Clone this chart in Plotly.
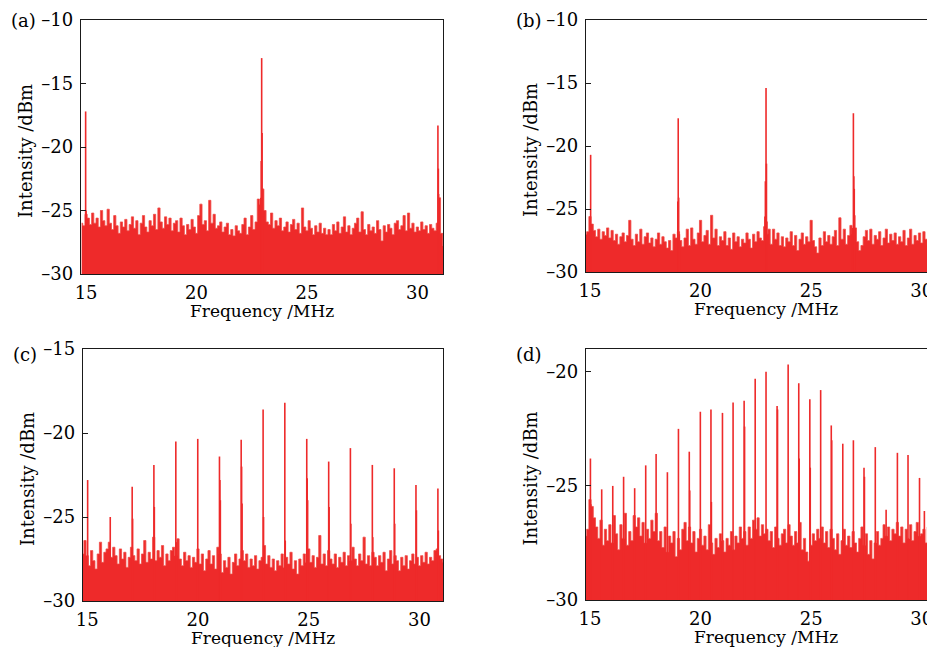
import numpy as np
import plotly.graph_objects as go

# page body adds an 8 px margin, so the figure is drawn 8 px in from the top-left
OFF = 8
W, H = 935 - OFF, 647 - OFF

# ---------------- data ----------------
# noise-floor samples, 0.1 MHz grid
freq_ac = np.round(np.arange(14.8, 31.25, 0.1), 2)   # panels a, c
freq_bd = np.round(np.arange(14.8, 30.65, 0.1), 2)   # panels b, d

noise_a = [-26.0, -26.2,
    -25.3, -25.6, -26.1, -25.2, -26.0, -25.6, -26.3, -25.0, -25.8, -26.2,
    -24.9, -26.0, -26.5, -25.4, -26.2, -26.8, -25.9, -26.3, -25.7, -26.6,
    -26.1, -25.5, -26.4, -25.8, -26.9, -26.0, -25.4, -26.3, -26.7, -25.8,
    -26.2, -25.3, -26.5, -24.8, -25.9, -26.4, -25.5, -26.1, -25.6, -26.6,
    -26.0, -25.8, -26.7, -25.6, -26.2, -26.9, -26.1, -26.5, -25.7, -26.3,
    -26.8, -25.4, -24.5, -26.1, -25.8, -26.6, -24.2, -26.0, -25.3, -26.4,
    -26.2, -25.9, -26.7, -26.3, -26.0, -26.9, -26.5, -27.0, -26.2, -26.6,
    -26.8, -26.1, -25.6, -26.9, -26.3, -25.4, -26.5, -25.9, -24.1, -24.5,
    -23.3, -25.0, -25.9, -26.1, -25.2, -26.4, -25.8, -26.2, -25.6, -26.6,
    -26.3, -25.9, -26.7, -26.1, -25.7, -26.5, -26.0, -26.8, -24.8, -26.3,
    -26.6, -25.8, -26.4, -26.9, -26.2, -26.7, -26.0, -26.8, -26.4, -26.9,
    -26.5, -26.9, -26.1, -26.6, -25.9, -26.8, -26.3, -25.5, -26.7, -26.2,
    -26.9, -26.4, -26.0, -25.6, -26.7, -25.1, -26.5, -26.9, -26.1, -26.6,
    -26.3, -26.8, -25.8, -26.5, -27.4, -26.2, -26.7, -26.1, -26.4, -26.9,
    -26.0, -25.8, -26.5, -26.2, -25.4, -26.6, -25.2, -26.4, -26.0, -26.7,
    -26.3, -26.6, -25.9, -26.5, -26.2, -26.8, -26.1, -26.4, -26.6, -26.0,
    -24.0, -26.8, -27.8]

noise_b = [-27.0, -26.8,
    -25.6, -26.2, -26.7, -27.2, -26.6, -27.4, -26.8, -27.1, -26.5, -27.3,
    -26.7, -27.5, -27.0, -27.8, -27.2, -26.9, -27.6, -27.1, -25.9, -27.4,
    -27.9, -27.0, -27.6, -26.6, -27.8, -27.2, -26.9, -27.7, -27.3, -28.0,
    -27.4, -26.9, -27.8, -27.2, -27.6, -28.1, -27.5, -28.3, -27.0, -27.3,
    -26.8, -27.5, -28.0, -27.3, -26.6, -27.9, -26.5, -27.4, -27.8, -26.9,
    -25.9, -27.6, -27.1, -26.7, -27.8, -25.5, -27.3, -26.6, -27.9, -27.2,
    -27.5, -26.8, -27.9, -27.3, -28.2, -26.9, -27.6, -27.2, -28.0, -27.4,
    -27.7, -26.9, -27.4, -28.1, -27.0, -27.6, -26.8, -27.3, -27.5, -26.4,
    -27.0, -26.6, -27.8, -26.6, -27.4, -26.9, -27.9, -27.2, -28.0, -27.3,
    -27.6, -26.8, -27.9, -27.1, -28.3, -27.4, -26.9, -27.8, -27.2, -27.6,
    -25.9, -27.5, -28.0, -28.5, -27.3, -27.9, -26.8, -27.6, -27.1, -27.8,
    -27.2, -26.7, -27.9, -25.7, -27.4, -26.6, -27.8, -27.1, -26.3, -27.0,
    -26.5, -27.6, -28.3, -27.9, -27.2, -26.7, -27.5, -26.6, -27.8, -27.1,
    -27.4, -26.8, -27.9, -27.3, -26.6, -27.7, -27.0, -27.5, -26.9, -27.8,
    -27.2, -27.6, -26.7, -27.9, -27.3, -26.6, -27.8, -27.1, -27.5, -26.9,
    -27.7, -26.8, -27.4, -27.9, -26.7, -27.3, -27.6]

noise_c = [-27.2, -26.4,
    -27.3, -27.9, -27.0, -27.6, -28.1, -27.2, -26.5, -27.7, -27.1, -26.9,
    -26.5, -27.4, -26.8, -27.3, -27.8, -26.9, -27.5, -27.1, -28.0, -27.4,
    -26.8, -27.3, -27.6, -26.9, -27.8, -27.2, -26.4, -27.7, -27.1, -27.5,
    -26.2, -27.6, -27.0, -27.4, -26.7, -27.9, -27.2, -27.6, -27.0, -26.8,
    -27.3, -26.3, -27.5, -27.9, -27.1, -27.6, -27.3, -28.0, -27.4, -27.7,
    -26.9, -27.8, -27.2, -28.2, -27.5, -27.0, -27.8, -27.3, -28.1, -26.8,
    -27.2, -28.3, -27.6, -28.0, -27.4, -28.4, -27.7, -27.2, -27.9, -27.5,
    -27.0, -27.6, -27.2, -28.0, -27.5, -27.9, -27.3, -28.1, -27.6, -27.4,
    -26.7, -27.8, -27.3, -28.0, -27.5, -28.2, -27.6, -27.9, -27.2, -28.0,
    -27.4, -27.8, -27.1, -28.1, -27.6, -28.4, -27.5, -27.9, -27.2, -27.7,
    -26.9, -27.7, -27.3, -28.0, -27.4, -26.1, -27.8, -27.2, -27.9, -27.0,
    -27.5, -27.8, -27.2, -28.0, -27.4, -27.7, -27.1, -27.9, -27.3, -27.6,
    -26.8, -27.5, -27.9, -27.2, -27.6, -26.2, -27.8, -27.3, -27.9, -27.1,
    -27.4, -27.9, -27.3, -27.7, -27.1, -28.2, -27.5, -27.0, -27.8, -27.3,
    -27.6, -28.2, -27.4, -27.9, -27.3, -28.1, -27.6, -27.2, -27.8, -27.4,
    -27.9, -27.3, -27.7, -27.1, -27.8, -27.4, -27.6, -27.0, -26.9, -27.3,
    -27.5, -27.7, -27.9]

noise_d = [-27.2, -26.9,
    -25.6, -25.9, -26.4, -26.8, -27.3, -26.5, -27.6, -26.9, -27.4, -26.7,
    -27.5, -26.3, -27.1, -27.8, -26.7, -27.3, -26.2, -27.6, -27.0, -27.4,
    -26.3, -26.8, -26.4, -27.2, -26.6, -27.5, -26.9, -27.3, -26.5, -27.0,
    -26.2, -27.4, -27.0, -27.7, -26.8, -27.9, -27.2, -27.5, -27.0, -28.1,
    -27.3, -27.8, -26.9, -26.6, -27.4, -26.8, -27.5, -27.0, -27.9, -27.3,
    -26.9, -27.6, -27.2, -27.8, -26.7, -27.5, -28.0, -27.3, -27.7, -27.1,
    -27.4, -27.9, -27.3, -27.6, -27.0, -27.8, -27.2, -27.5, -26.8, -27.3,
    -27.0, -27.6, -26.8, -27.3, -26.5, -26.9, -26.4, -27.2, -26.7, -27.1,
    -26.9, -27.4, -27.0, -27.7, -26.8, -27.3, -27.6, -27.1, -26.9, -27.5,
    -26.7, -27.2, -27.6, -27.0, -27.5, -26.6, -27.8, -27.3, -27.9, -28.3,
    -27.6, -27.1, -27.4, -26.9, -27.3, -26.8, -27.5, -27.0, -27.7, -26.9,
    -27.3, -27.8, -27.1, -28.0, -27.4, -26.9, -27.6, -27.2, -27.7, -27.0,
    -27.5, -27.9, -27.3, -26.8, -27.6, -27.1, -28.0, -27.4, -28.2, -27.5,
    -27.0, -27.6, -27.3, -26.7, -27.2, -26.8, -27.4, -26.9, -27.1, -26.6,
    -27.2, -26.8, -27.5, -26.9, -27.3, -26.7, -27.4, -27.0, -26.6, -27.2,
    -27.1, -26.9, -27.5, -26.8, -27.3, -26.7, -27.0]

# spectral lines (frequency MHz, intensity dBm), incl. shoulders
lines_a_f = [14.98, 15.00, 22.91, 22.93, 22.95, 22.97, 22.99, 23.01, 30.93, 30.95, 30.96, 30.98]
lines_a_v = [-17.2, -25.0, -24.0, -21.1, -13.0, -18.9, -23.4, -25.5, -18.3, -21.7, -23.7, -26.7]

lines_b_f = [15.03, 15.05, 18.97, 18.99, 19.01, 19.04, 22.91, 22.93, 22.96, 22.98, 23.00,
             26.88, 26.91, 26.93, 26.95, 26.97]
lines_b_v = [-20.7, -26.2, -24.4, -17.8, -24.1, -27.0, -25.6, -22.8, -15.4, -21.4, -26.0,
             -26.5, -17.4, -22.4, -23.4, -25.5]

lines_c_f = [15.02, 16.04, 17.03, 17.05, 18.01, 18.03, 19.00, 19.02, 19.99, 20.97, 20.99, 21.01,
             21.95, 21.97, 21.99, 22.94, 22.96, 23.92, 23.94, 24.91, 24.93, 24.95, 25.90, 25.92,
             26.88, 26.90, 27.87, 27.89, 28.86, 28.88, 29.84, 29.86, 30.83, 30.85]
lines_c_v = [-22.8, -25.0, -23.2, -25.1, -21.9, -24.4, -20.5, -26.5, -20.35, -21.4, -22.8, -24.0,
             -20.4, -22.0, -24.2, -18.6, -25.0, -18.2, -26.4, -20.35, -22.7, -24.0, -21.7, -24.4,
             -20.9, -25.4, -21.9, -26.2, -22.1, -25.4, -23.1, -24.6, -23.3, -25.8]

lines_d_f = [15.02, 15.04, 15.53, 16.03, 16.52, 17.02, 17.52, 17.99, 18.50, 19.00, 19.49, 19.51,
             19.99, 20.47, 20.49, 20.99, 21.47, 21.97, 21.99, 22.47, 22.96, 23.46, 23.48, 23.96,
             24.44, 24.46, 24.94, 24.96, 25.43, 25.91, 25.93, 26.43, 26.91, 27.39, 27.41, 27.90,
             28.39, 28.90, 29.38, 29.90, 30.12, 30.38]
lines_d_v = [-23.8, -25.8, -25.15, -25.0, -24.6, -25.1, -24.1, -23.6, -24.4, -22.5, -23.5, -25.2,
             -21.75, -21.65, -25.7, -21.8, -21.35, -21.27, -22.4, -20.3, -20.0, -21.5, -21.65, -19.68,
             -20.5, -23.8, -21.2, -24.2, -20.8, -22.35, -23.0, -23.15, -23.0, -24.2, -24.6, -23.3,
             -26.05, -23.55, -23.65, -24.65, -26.1, -24.07]

x_ticks = [15, 20, 25, 30]
y_ticks_ab = [-30, -25, -20, -15, -10]
y_ticks_c = [-30, -25, -20, -15]
y_ticks_d = [-30, -25, -20]

panels = [
    dict(name="(a)", f=freq_ac, n=noise_a, lf=lines_a_f, lv=lines_a_v,
         xr=[14.77, 31.16], yr=[-30, -10], yt=y_ticks_ab,
         box=(81, 443, 20, 274), full=True),
    dict(name="(b)", f=freq_bd, n=noise_b, lf=lines_b_f, lv=lines_b_v,
         xr=[14.82, 30.60], yr=[-30, -10], yt=y_ticks_ab,
         box=(586, 935, 20, 272), full=False),
    dict(name="(c)", f=freq_ac, n=noise_c, lf=lines_c_f, lv=lines_c_v,
         xr=[14.81, 31.06], yr=[-30, -15], yt=y_ticks_c,
         box=(83, 443, 349, 601), full=True),
    dict(name="(d)", f=freq_bd, n=noise_d, lf=lines_d_f, lv=lines_d_v,
         xr=[14.82, 30.60], yr=[-30, -19], yt=y_ticks_d,
         box=(586, 935, 349, 600), full=False),
]

FONT = "DejaVu Serif"
FILL = "#ee2a2a"
AXC = "#1a1a1a"

def px(x):
    return (x - OFF) / W

def py(y):
    return 1 - (y - OFF) / H

fig = go.Figure()
layout = dict(width=W, height=H, margin=dict(l=0, r=0, t=0, b=0, autoexpand=False),
              plot_bgcolor="white", paper_bgcolor="white", showlegend=False,
              font=dict(family=FONT, size=17, color="black"))
annotations = []

for i, p in enumerate(panels):
    k = "" if i == 0 else str(i + 1)
    xa, ya = "x" + k, "y" + k
    base = p["yr"][0]
    # baseline for fill
    fig.add_trace(go.Scatter(x=p["f"], y=[base] * len(p["f"]), mode="lines",
                             line=dict(width=0, color=FILL), xaxis=xa, yaxis=ya,
                             hoverinfo="skip"))
    fig.add_trace(go.Scatter(x=p["f"], y=p["n"], mode="lines", fill="tonexty",
                             fillcolor=FILL, line=dict(width=0.8, color="#f04a45", shape="hvh"),
                             xaxis=xa, yaxis=ya))
    lx, ly = [], []
    for f, v in zip(p["lf"], p["lv"]):
        lx += [f, f, None]
        ly += [base, v, None]
    fig.add_trace(go.Scatter(x=lx, y=ly, mode="lines", line=dict(width=1.6, color=FILL),
                             xaxis=xa, yaxis=ya))
    x0, x1, y0, y1 = p["box"]
    layout["xaxis" + k] = dict(domain=[px(x0), min(px(x1), 1.0)], range=p["xr"], anchor=ya,
                               tickvals=x_ticks, ticks="", showgrid=False,
                               zeroline=False, showline=True, linecolor=AXC, automargin=False,
                               linewidth=1.4, mirror=True, ticklabelstandoff=2,
                               tickfont=dict(family=FONT, size=18, color="black"))
    layout["yaxis" + k] = dict(domain=[py(y1), py(y0)], range=p["yr"], anchor=xa,
                               tickvals=p["yt"], ticktext=["\u2013" + str(abs(v)) for v in p["yt"]],
                               ticks="inside", ticklen=5, tickwidth=1.3,
                               tickcolor=AXC, showgrid=False, zeroline=False, automargin=False,
                               showline=True, linecolor=AXC, linewidth=1.4,
                               mirror=p["full"], ticklabelstandoff=3,
                               tickfont=dict(family=FONT, size=18, color="black"))
    # titles & labels
    cx = (x0 + (x1 if p["full"] else 945)) / 2
    annotations.append(dict(text="Frequency /MHz", x=px(cx), y=py(y1 + 37), xref="paper",
                            yref="paper", showarrow=False, xanchor="center", yanchor="middle",
                            font=dict(family=FONT, size=17)))
    annotations.append(dict(text="Intensity /dBm", x=px(x0 - 56), y=py((y0 + y1) / 2 + 4),
                            xref="paper", yref="paper", showarrow=False, textangle=-90,
                            xanchor="center", yanchor="middle", font=dict(family=FONT, size=18)))
    annotations.append(dict(text=p["name"], x=px(x0 - 72), y=py(y0 + (0 if i < 2 else 6)),
                            xref="paper", yref="paper", showarrow=False, xanchor="left",
                            yanchor="middle", font=dict(family=FONT, size=18)))

layout["annotations"] = annotations
fig.update_layout(**layout)
fig.write_html("out.html")
